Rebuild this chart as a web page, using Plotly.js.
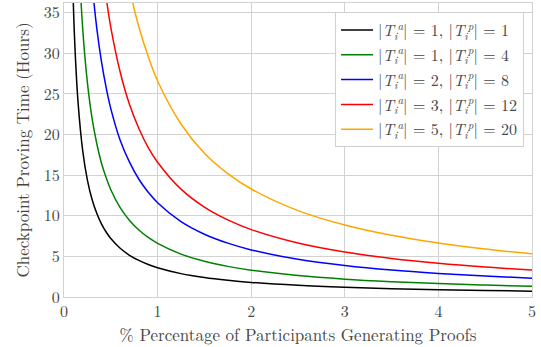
<!DOCTYPE html>
<html>
<head>
<meta charset="utf-8">
<script src="https://cdn.plot.ly/plotly-3.0.1.min.js"></script>
<style>html,body{margin:0;padding:0;background:#fff;}#chart{width:541px;height:347px;}</style>
</head>
<body>
<div id="chart"></div>
<script>
// % of participants generating proofs
const xPct = [0.08, 0.1, 0.12, 0.15, 0.2, 0.25, 0.3, 0.35, 0.4, 0.45, 0.5, 0.6, 0.7, 0.8, 0.9, 1.0, 1.25, 1.5, 1.75, 2, 2.5, 3, 3.5, 4, 4.5, 5];
// checkpoint proving time (hours)
const hours_1_1  = [45, 36, 30, 24, 18, 14.4, 12, 10.3, 9, 8, 7.2, 6, 5.14, 4.5, 4, 3.6, 2.88, 2.4, 2.06, 1.8, 1.44, 1.2, 1.03, 0.9, 0.8, 0.72];
const hours_1_4  = [82.5, 66, 55, 44, 33, 26.4, 22, 18.9, 16.5, 14.7, 13.2, 11, 9.43, 8.25, 7.33, 6.6, 5.28, 4.4, 3.77, 3.3, 2.64, 2.2, 1.89, 1.65, 1.47, 1.32];
const hours_2_8  = [145, 116, 96.7, 77.3, 58, 46.4, 38.7, 33.1, 29, 25.8, 23.2, 19.3, 16.6, 14.5, 12.9, 11.6, 9.28, 7.73, 6.63, 5.8, 4.64, 3.87, 3.31, 2.9, 2.58, 2.32];
const hours_3_12 = [207, 166, 138, 111, 83, 66.4, 55.3, 47.4, 41.5, 36.9, 33.2, 27.7, 23.7, 20.75, 18.4, 16.6, 13.28, 11.07, 9.49, 8.3, 6.64, 5.53, 4.74, 4.15, 3.69, 3.32];
const hours_5_20 = [332, 266, 222, 177, 133, 106, 88.7, 76, 66.5, 59.1, 53.2, 44.3, 38, 33.25, 29.6, 26.6, 21.3, 17.7, 15.2, 13.3, 10.64, 8.87, 7.6, 6.65, 5.91, 5.32];

const seriesNames = [
  '|<i>T</i><sub><i>i</i></sub><sup><i>a</i></sup>| = 1, |<i>T</i><sub><i>i</i></sub><sup><i>p</i></sup>| = 1',
  '|<i>T</i><sub><i>i</i></sub><sup><i>a</i></sup>| = 1, |<i>T</i><sub><i>i</i></sub><sup><i>p</i></sup>| = 4',
  '|<i>T</i><sub><i>i</i></sub><sup><i>a</i></sup>| = 2, |<i>T</i><sub><i>i</i></sub><sup><i>p</i></sup>| = 8',
  '|<i>T</i><sub><i>i</i></sub><sup><i>a</i></sup>| = 3, |<i>T</i><sub><i>i</i></sub><sup><i>p</i></sup>| = 12',
  '|<i>T</i><sub><i>i</i></sub><sup><i>a</i></sup>| = 5, |<i>T</i><sub><i>i</i></sub><sup><i>p</i></sup>| = 20'
];
const seriesValues = [hours_1_1, hours_1_4, hours_2_8, hours_3_12, hours_5_20];
const seriesColors = ['#000000', '#008000', '#0000ff', '#ff0000', '#ffa500'];

const traces = seriesValues.map((ys, i) => ({
  x: xPct, y: ys, type: 'scatter', mode: 'lines', name: seriesNames[i],
  legendgroup: 'g' + i,
  line: {color: seriesColors[i], width: 1.5, shape: 'spline', smoothing: 1}
}));

const fam = 'Latin Modern Roman';
const fc = '#444444';

const layout = {
  width: 541, height: 347,
  margin: {l: 64, r: 9, t: 3, b: 50},
  paper_bgcolor: '#fff', plot_bgcolor: '#fff',
  font: {family: fam, size: 15, color: fc},
  showlegend: true,
  legend: {
    x: 0.983, y: 0.969, xanchor: 'right', yanchor: 'top',
    bgcolor: '#ffffff', bordercolor: '#d0d0d0', borderwidth: 1,
    font: {family: fam, size: 16, color: fc},
    itemwidth: 32, tracegroupgap: 1
  },
  xaxis: {
    range: [0, 5], tickvals: [0, 1, 2, 3, 4, 5], ticktext: ['0', '1', '2', '3', '4', '5'],
    showgrid: true, gridcolor: '#d2d2d2', gridwidth: 1,
    showline: true, linecolor: '#d2d2d2', linewidth: 1, mirror: true,
    zeroline: false, ticks: '',
    tickfont: {family: fam, size: 16, color: fc},
    title: {text: '% Percentage of Participants Generating Proofs', font: {family: fam, size: 17, color: fc}, standoff: 5}
  },
  yaxis: {
    range: [0, 36.2], tickvals: [0, 5, 10, 15, 20, 25, 30, 35],
    showgrid: true, gridcolor: '#d2d2d2', gridwidth: 1,
    showline: true, linecolor: '#d2d2d2', linewidth: 1, mirror: true,
    zeroline: false, ticks: '',
    tickfont: {family: fam, size: 16, color: fc},
    title: {text: 'Checkpoint Proving Time (Hours)', font: {family: fam, size: 17, color: fc}, standoff: 9}
  }
};

Plotly.newPlot('chart', traces, layout, {displayModeBar: false, staticPlot: true});
</script>
</body>
</html>
